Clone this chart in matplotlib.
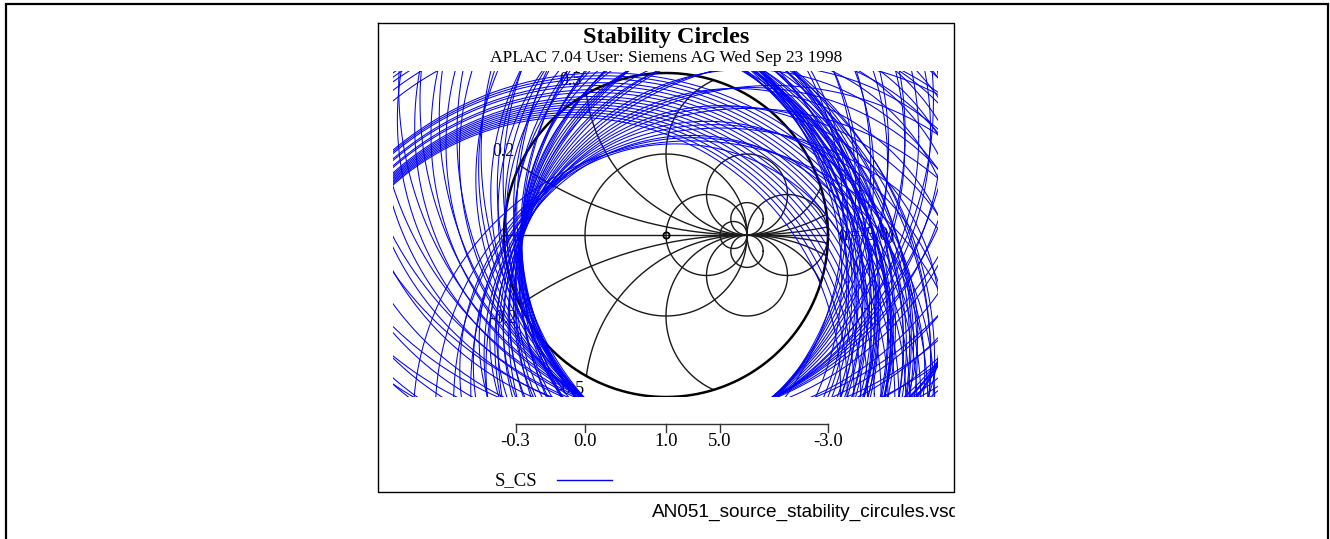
import numpy as np
import matplotlib
matplotlib.use("Agg")
import matplotlib.pyplot as plt
from matplotlib.patches import Circle

plt.rcParams["font.family"] = ["Liberation Serif", "DejaVu Serif"]

# Source stability circles, one per frequency point: centre angle (deg),
# centre magnitude in the reflection-coefficient plane, and radius.
cs_angle = [
    # left side
    275, 278, 281, 284, 287, 290, 293, 296, 299, 302,
    305, 308, 311, 314, 317, 320, 323, 326, 329, 332,
    335, 338, 341, 344, 347, 350, 353, 356, 359, 2,
    5, 8, 11, 14, 17, 20, 23, 26, 29, 32,
    335, 342, 349, 356, 3, 10, 17,
    # lower left
    36, 40, 44, 48, 52, 56, 60, 64, 68, 72, 76, 80, 84, 88,
    # lower right
    96, 100, 104, 108, 112, 116, 120, 124, 128, 132,
    136, 140, 145, 150, 155, 160, 166, 172,
    # right band
    200, 202, 204, 206, 208, 210, 212, 214, 216, 218,
    220, 222, 224, 226, 228, 230, 232, 234, 236,
    201, 205, 209, 213, 217, 221, 225, 229, 233,
    203, 211, 219, 227, 235, 207, 215, 223,
    # upper right bundle
    238, 239, 240, 241, 242, 243, 244, 245, 246, 246,
    247, 247, 248, 248, 249, 250,
]
cs_mag = [
    1.3, 2.3, 1.7, 1.3, 2.3, 1.7, 1.3, 2.3, 1.7, 1.3,
    2.3, 1.7, 1.3, 2.3, 1.7, 1.3, 2.3, 1.7, 1.3, 2.3,
    1.7, 1.3, 2.3, 1.7, 1.3, 2.3, 1.7, 1.3, 2.3, 1.7,
    1.3, 2.3, 1.7, 1.3, 2.3, 1.7, 1.3, 2.3, 1.7, 1.3,
    1.0, 1.0, 1.0, 1.0, 1.0, 1.0, 1.0,
    2.1, 1.5, 2.1, 1.5, 2.1, 1.5, 2.1, 1.5, 2.1, 1.5, 2.1, 1.5, 2.1, 1.5,
    1.4, 2.0, 1.4, 2.0, 1.4, 2.0, 1.4, 2.0, 1.4, 1.7,
    1.3, 1.7, 1.3, 1.7, 1.3, 1.7, 1.3, 1.7,
    1.50, 1.55, 1.60, 1.52, 1.58, 1.65, 1.55, 1.62, 1.70, 1.58,
    1.66, 1.75, 1.60, 1.68, 1.78, 1.62, 1.70, 1.80, 1.65,
    1.80, 1.85, 1.80, 1.90, 1.85, 1.95, 1.90, 2.00, 1.95,
    1.70, 1.75, 1.80, 1.85, 1.90, 1.60, 1.65, 1.70,
    2.2, 2.2, 2.2, 2.2, 2.2, 2.2, 2.2, 2.2, 2.2, 2.2,
    2.2, 2.2, 2.2, 2.2, 2.2, 2.2,
]
cs_radius = [
    2.42, 3.44, 2.87, 2.49, 3.52, 2.96, 2.60, 3.63, 3.07, 2.70,
    3.73, 3.16, 2.79, 3.82, 3.25, 2.88, 3.91, 3.34, 2.96, 3.98,
    3.40, 3.02, 4.04, 3.45, 3.06, 4.07, 3.48, 3.08, 4.08, 3.49,
    3.16, 4.12, 3.55, 3.25, 4.21, 3.68, 3.36, 4.35, 3.80, 3.45,
    2.70, 2.74, 2.77, 2.79, 2.88, 2.96, 3.03,
    4.28, 3.70, 4.31, 3.72, 4.33, 3.74, 4.35, 3.76, 4.37, 3.78, 4.39, 3.80, 4.40, 3.80,
    3.71, 4.33, 3.75, 4.37, 3.79, 4.41, 3.82, 4.42, 3.81, 4.09,
    3.67, 4.05, 3.63, 4.00, 3.57, 3.94, 3.50, 3.87,
    3.58, 3.67, 3.76, 3.62, 3.73, 3.85, 3.67, 3.80, 3.95, 3.73,
    3.88, 4.05, 3.78, 3.94, 4.12, 3.82, 3.98, 4.16, 3.89,
    4.20, 4.30, 4.22, 4.40, 4.31, 4.50, 4.40, 4.58, 4.49,
    4.00, 4.09, 4.18, 4.27, 4.36, 3.80, 3.89, 3.98,
    3.32, 3.37, 3.42, 3.47, 3.52, 3.57, 3.62, 3.67, 3.72, 3.77,
    3.82, 3.87, 3.92, 3.97, 4.02, 4.07,
]

# Smith chart grid
r_values = [0.0, 1.0, 5.0, -3.0]
x_values = [0.2, 0.5, 1.0, 2.0, 5.0, -0.2, -0.5, -1.0, -2.0, -5.0]
gamma_max = 2.0

# resistance scale under the chart
scale_r = [-0.3, 0.0, 1.0, 5.0, -3.0]
scale_text = ["-0.3", "0.0", "1.0", "5.0", "-3.0"]

W, H = 1330, 539
CX, CY, PPU = 666.0, 235.0, 81.0   # chart centre (px) and pixels per unit |Gamma|


def fig_box(x0, y0, x1, y1):
    return [x0 / W, 1 - y1 / H, (x1 - x0) / W, (y1 - y0) / H]


def gx(px):
    return (px - CX) / PPU


def gy(py):
    return (CY - py) / PPU


fig = plt.figure(figsize=(W / 100, H / 100), dpi=100)

# page: outer frame, plot box, titles, legend
page = fig.add_axes([0, 0, 1, 1])
page.set_xlim(0, W)
page.set_ylim(H, 0)
page.axis("off")
page.plot([5.5, 5.5, 1327.5, 1327.5], [H + 5, 3.5, 3.5, H + 5], color="k", lw=1.6,
          solid_joinstyle="miter")
page.plot([377.5, 953.5, 953.5, 377.5, 377.5], [22.5, 22.5, 492, 492, 22.5],
          color="k", lw=1.0)
page.text(666, 37, "Stability Circles", ha="center", va="center",
          fontsize=17.5, fontweight="bold")
page.text(666, 57.5, "APLAC 7.04 User: Siemens AG Wed Sep 23 1998",
          ha="center", va="center", fontsize=12.5)
page.text(495, 485, "S_CS", ha="left", va="baseline", fontsize=13.5)
page.plot([557, 612], [479.5, 479.5], color="#0000ff", lw=1.0)

# file name under the box, cut off at the drawing edge
foot = fig.add_axes(fig_box(600, 494, 955, 536))
foot.set_xlim(600, 955)
foot.set_ylim(536, 494)
foot.axis("off")
foot.text(652, 512, "AN051_source_stability_circules.vsd", ha="left", va="center",
          fontsize=13.7, family="Liberation Sans", clip_on=True)

# chart area
ax = fig.add_axes(fig_box(393, 71, 938, 397))
ax.set_xlim(gx(393), gx(938))
ax.set_ylim(gy(397), gy(71))
ax.set_facecolor("none")
ax.axis("off")

theta = np.linspace(0, 2 * np.pi, 1441)
clip = Circle((0, 0), gamma_max, transform=ax.transData)
grid_kw = dict(color="#1a1a1a", lw=1.0, zorder=2)

# constant resistance circles
for r in r_values:
    c, rad = r / (1 + r), 1 / abs(1 + r)
    ln, = ax.plot(c + rad * np.cos(theta), rad * np.sin(theta), **grid_kw)
    ln.set_clip_path(clip)

# constant reactance arcs, labelled where they meet the rim
v_lo, v_hi = ax.get_ylim()
for x in x_values:
    rad = 1 / abs(x)
    ln, = ax.plot(1 + rad * np.cos(theta), 1 / x + rad * np.sin(theta), **grid_kw)
    ln.set_clip_path(clip)
    a, b, c = 1 + 1 / x ** 2, -5 / x, 2.25
    disc = b * b - 4 * a * c
    if disc >= 0:
        vs = [(-b + s * np.sqrt(disc)) / (2 * a) for s in (1, -1)]
        u, v = min((2.5 - vv / x, vv) for vv in vs)
        lu, lv = u - 0.2, v + 0.17 * np.sign(x)
        if v_lo + 0.07 < lv < v_hi - 0.07:
            ax.text(lu, lv, f"{x:.1f}", ha="center", va="center",
                    fontsize=13, zorder=1)

# real axis, rim and centre mark
ax.plot([-gamma_max, gamma_max], [0, 0], **grid_kw)
ax.plot(gamma_max * np.cos(theta), gamma_max * np.sin(theta), color="k", lw=1.8, zorder=2)
ax.plot([0], [0], "o", ms=4.5, mfc="none", mec="k", mew=1.3, zorder=2)
ax.text(gx(838), 0, "(r=-3.0)", ha="left", va="center", fontsize=13, zorder=1,
        clip_on=True)

# stability circles
for ang, mag, rad in zip(cs_angle, cs_mag, cs_radius):
    cu = mag * np.cos(np.radians(ang))
    cv = mag * np.sin(np.radians(ang))
    ax.plot(cu + rad * np.cos(theta), cv + rad * np.sin(theta),
            color="#0000ff", lw=0.75, zorder=3)

# resistance scale
g = [(r - 1) / (r + 1) for r in scale_r]
y_line, y_tick, y_lab = gy(424), gy(432), gy(446)
ax.plot([min(g), max(g)], [y_line, y_line], color="#333333", lw=1.0, clip_on=False)
for gi, txt in zip(g, scale_text):
    ax.plot([gi, gi], [y_line, y_tick], color="#333333", lw=1.0, clip_on=False)
    ax.text(gi, y_lab, txt, ha="center", va="baseline", fontsize=13.5, clip_on=False)

fig.savefig("out.png", dpi=100)
